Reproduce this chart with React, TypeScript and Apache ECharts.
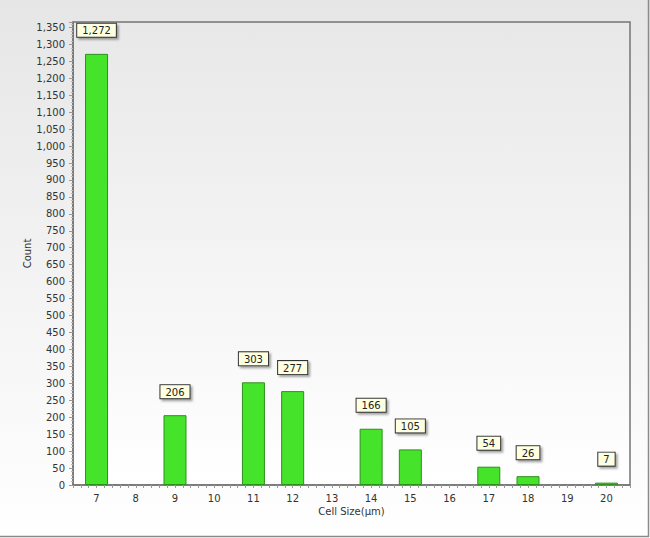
import React, { useEffect, useRef } from "react";
import * as echarts from "echarts";

const cellSizes = [7, 9, 11, 12, 14, 15, 17, 18, 20];
const counts = [1272, 206, 303, 277, 166, 105, 54, 26, 7];
const xMin = 6.4;
const xMax = 20.6;
const yMax = 1366;
const yStep = 50;

export default function App() {
  const ref = useRef<HTMLDivElement>(null);
  useEffect(() => {
    if (!ref.current) return;
    const chart = echarts.init(ref.current, null, { renderer: "svg" });
    const font = "DejaVu Sans";
    chart.setOption({
      animation: false,
      backgroundColor: "transparent",
      textStyle: { fontFamily: font },
      grid: {
        left: 73,
        right: 20,
        top: 22,
        bottom: 53,
        show: true,
        borderColor: "#747474",
        borderWidth: 1.5,
        backgroundColor: new echarts.graphic.LinearGradient(0, 0, 0, 1, [
          { offset: 0, color: "#e8e8e8" },
          { offset: 1, color: "#ffffff" },
        ]),
      },
      xAxis: {
        type: "value",
        min: xMin,
        max: xMax,
        interval: 0.2,
        name: "Cell Size(μm)",
        nameLocation: "middle",
        nameGap: 21,
        nameMoveOverlap: false,
        nameTextStyle: { fontFamily: font, fontSize: 10, color: "#333" },
        splitLine: { show: false },
        axisLine: { show: true, lineStyle: { color: "#747474", width: 1.5 } },
        axisTick: { show: true, length: 3, lineStyle: { color: "#999" } },
        axisLabel: {
          fontFamily: font,
          fontSize: 10,
          color: "#333",
          margin: 8,
          formatter: (v: number) =>
            Math.abs(v - Math.round(v)) < 1e-6 ? String(Math.round(v)) : "",
        },
      },
      yAxis: {
        type: "value",
        min: 0,
        max: yMax,
        interval: yStep,
        name: "Count",
        nameLocation: "middle",
        nameGap: 41,
        nameRotate: 90,
        nameMoveOverlap: false,
        nameTextStyle: { fontFamily: font, fontSize: 10, color: "#333" },
        splitLine: { show: false },
        axisLine: { show: true, lineStyle: { color: "#747474", width: 1.5 } },
        axisTick: { show: true, length: 4, lineStyle: { color: "#999" } },
        minorTick: { show: true, splitNumber: 5, length: 2, lineStyle: { color: "#bbb" } },
        axisLabel: {
          fontFamily: font,
          fontSize: 10,
          color: "#333",
          margin: 8,
          formatter: (v: number) =>
            v % yStep === 0 ? v.toLocaleString("en-US") : "",
        },
      },
      series: [
        {
          type: "bar",
          barWidth: 23,
          data: cellSizes.map((s, i) => [s, counts[i]]),
          itemStyle: {
            color: "#46e32b",
            borderColor: "#2f8f1e",
            borderWidth: 1,
          },
          label: {
            show: true,
            position: "top",
            distance: 17,
            fontFamily: font,
            fontSize: 10,
            color: "#222",
            backgroundColor: "#ffffe1",
            borderColor: "#333",
            borderWidth: 1,
            padding: [2, 5, 1, 5],
            shadowColor: "rgba(0,0,0,0.35)",
            shadowOffsetX: 2,
            shadowOffsetY: 2,
            shadowBlur: 2,
            formatter: (p: any) => Number(p.value[1]).toLocaleString("en-US"),
          },
        },
      ],
      graphic: [
        {
          type: "line",
          shape: { x1: 648.5, y1: 0, x2: 648.5, y2: 537 },
          style: { stroke: "#8a8a8a", lineWidth: 1.5 },
          silent: true,
        },
        {
          type: "line",
          shape: { x1: 0, y1: 536.5, x2: 649, y2: 536.5 },
          style: { stroke: "#8a8a8a", lineWidth: 1.5 },
          silent: true,
        },
      ],
    });
    return () => chart.dispose();
  }, []);
  return (
    <div
      style={{
        position: "fixed",
        left: 0,
        top: 0,
        width: 650,
        height: 538,
        background: "linear-gradient(to bottom, #e6e6e6, #ffffff)",
      }}
    >
      <div ref={ref} style={{ width: 650, height: 538 }} />
    </div>
  );
}
